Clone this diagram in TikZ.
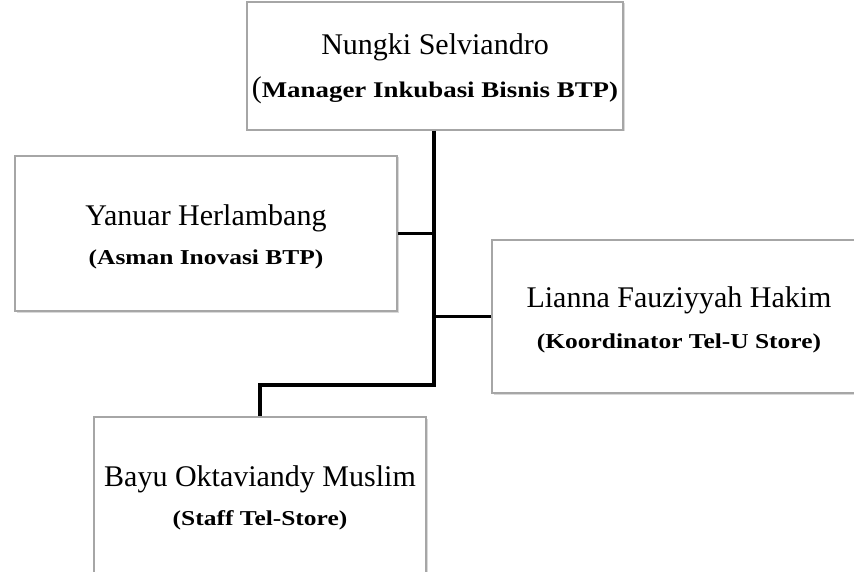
\documentclass[tikz,border=0pt]{standalone}
\usepackage{fontspec}
\setmainfont{Liberation Serif}
\newfontfamily\rolefont[FakeStretch=1.2]{Liberation Serif Bold}
\usepackage{xcolor}
\usepackage{tikz}
\usetikzlibrary{shadows}
\definecolor{OrgBorder}{HTML}{A6A6A6}
\newcommand{\orgbox}[4]{%
  \node[draw=OrgBorder,fill=white,line width=1.2pt,align=center,inner sep=0pt,
        font=\fontsize{30}{39}\selectfont,
        drop shadow={shadow xshift=1.5pt,shadow yshift=-1.5pt,opacity=0.3},#4] (#1)
        {\rule{0pt}{27pt}#2\\{\rolefont\fontsize{21.2}{39}\selectfont #3}};%
}

\begin{document}
\begin{tikzpicture}[x=1pt,y=-1pt]
    \path[use as bounding box,clip] (0,0) rectangle (854,572);
    \orgbox{manager}{Nungki Selviandro}{{\normalfont\fontsize{30}{43}\selectfont(}\fontsize{22.4}{43}\selectfont Manager Inkubasi Bisnis BTP)}{font=\fontsize{30}{43}\selectfont,minimum width=376pt,minimum height=128pt,at={(435,66)}}
    \orgbox{asman}{Yanuar Herlambang}{(Asman Inovasi BTP)}{minimum width=382pt,minimum height=155pt,at={(206,233.5)}}
    \orgbox{koordinator}{Lianna Fauziyyah Hakim}{(Koordinator Tel-U Store)}{font=\fontsize{30}{41}\selectfont,minimum width=374pt,minimum height=153pt,at={(679,316.5)}}
    \orgbox{staff}{Bayu Oktaviandy Muslim}{(Staff Tel-Store)}{minimum width=332pt,minimum height=156pt,at={(260,495)}}
    \coordinate (split) at (434,385);
    \draw[black,line width=3.5pt] (asman.east) -- (asman.east -| split);
    \draw[black,line width=3.5pt] (koordinator.west) -- (koordinator.west -| split);
    \draw[black,line width=4pt] (manager.south -| split) -- (split) -| (staff.north);
  \end{tikzpicture}
\end{document}
